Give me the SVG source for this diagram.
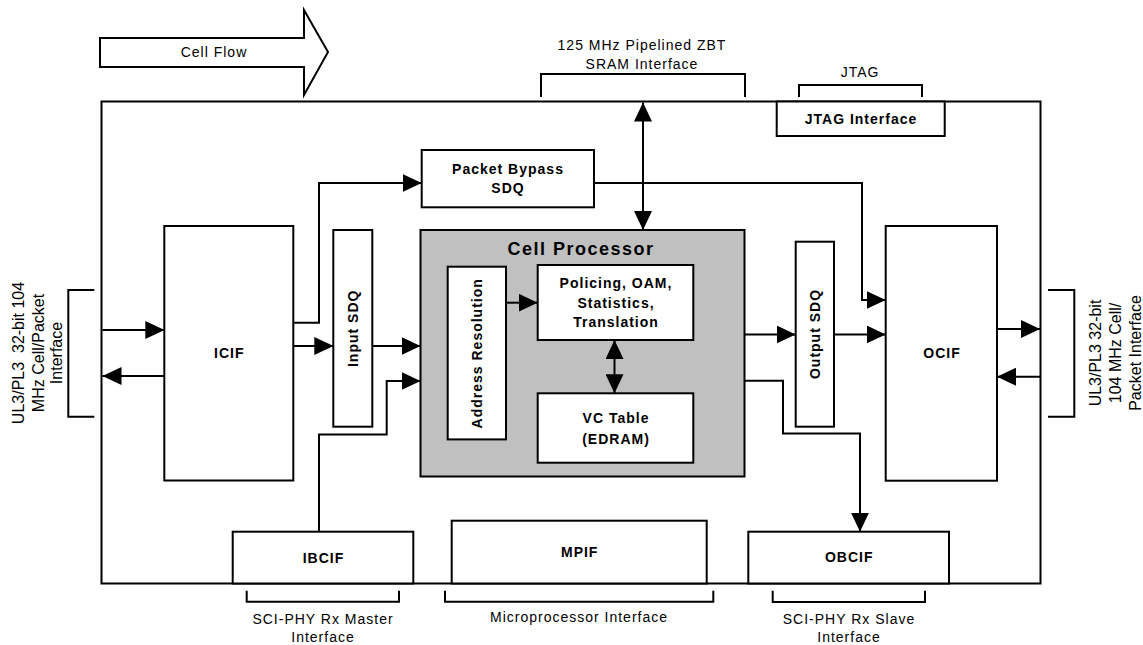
<svg xmlns="http://www.w3.org/2000/svg" width="1143" height="645" viewBox="0 0 1143 645">
<style>
  .box { fill: #fff; stroke: #000; stroke-width: 2; }
  .gray { fill: #c0c0c0; stroke: #000; stroke-width: 2; }
  .ln { fill: none; stroke: #000; stroke-width: 2; }
  .arr { fill: none; stroke: #000; stroke-width: 2; marker-end: url(#ah); }
  .darr { fill: none; stroke: #000; stroke-width: 2; marker-end: url(#ah); marker-start: url(#ah); }
  .lbl { font-family: "Liberation Sans", Arial, sans-serif; font-size: 14px; letter-spacing: 1px; text-anchor: middle; fill: #000; }
  .b { font-family: "Liberation Sans", Arial, sans-serif; font-size: 14px; font-weight: bold; letter-spacing: 1px; text-anchor: middle; fill: #000; }
  .title { font-family: "Liberation Sans", Arial, sans-serif; font-size: 18px; font-weight: bold; letter-spacing: 1.5px; text-anchor: middle; fill: #000; }
  .side { font-family: "Liberation Sans", Arial, sans-serif; font-size: 16px; text-anchor: middle; fill: #000; }
</style>
<defs>
  <marker id="ah" viewBox="0 0 19 18" refX="19" refY="9" markerWidth="19" markerHeight="18" markerUnits="userSpaceOnUse" orient="auto-start-reverse">
    <path d="M0,0 L19,9 L0,18 z" fill="#000"/>
  </marker>
</defs>
<rect width="1143" height="645" fill="#fff"/>

<!-- Cell Flow arrow -->
<g id="cellflow">
  <polygon points="100,38 304,38 304,10 328,52 304,95 304,67 100,67" class="box"/>
  <text class="lbl" x="214" y="57">Cell Flow</text>
</g>

<!-- Main chip boundary -->
<g id="chip">
  <rect x="101.5" y="101.5" width="939" height="482" class="box"/>
</g>

<!-- interface brackets and labels -->
<g id="sram-if">
  <path d="M541,97 V74 H745 V97" class="ln"/>
  <text class="lbl" x="642" y="50">125 MHz Pipelined ZBT</text>
  <text class="lbl" x="642" y="68.5">SRAM Interface</text>
</g>
<g id="jtag-if">
  <path d="M799,97 V85 H922 V97" class="ln"/>
  <text class="lbl" x="860" y="77">JTAG</text>
</g>
<g id="left-if">
  <path d="M94.3,290 H68.3 V416.7 H94.3" class="ln"/>
  <g transform="translate(0,353) rotate(-90)">
    <text class="side" x="0" y="23.9" xml:space="preserve">UL3/PL3  32-bit 104</text>
    <text class="side" x="0" y="43.9">MHz Cell/Packet</text>
    <text class="side" x="0" y="62.3">Interface</text>
  </g>
</g>
<g id="right-if">
  <path d="M1048,290 H1074.3 V416.7 H1048" class="ln"/>
  <g transform="translate(0,353) rotate(-90)">
    <text class="side" x="0" y="1100.6">UL3/PL3 32-bit</text>
    <text class="side" x="0" y="1120.6">104 MHz Cell/</text>
    <text class="side" x="0" y="1140.6">Packet Interface</text>
  </g>
</g>
<g id="ibcif-if">
  <path d="M246.7,590.7 V601.7 H399 V590.7" class="ln"/>
  <text class="lbl" x="323" y="624">SCI-PHY Rx Master</text>
  <text class="lbl" x="323" y="641.5">Interface</text>
</g>
<g id="mpif-if">
  <path d="M445,590.7 V601.7 H713.3 V590.7" class="ln"/>
  <text class="lbl" x="579" y="621.5">Microprocessor Interface</text>
</g>
<g id="obcif-if">
  <path d="M772.7,590.7 V602 H925 V590.7" class="ln"/>
  <text class="lbl" x="849" y="624">SCI-PHY Rx Slave</text>
  <text class="lbl" x="849" y="641.5">Interface</text>
</g>

<!-- Nodes -->
<g id="jtag">
  <rect x="776.7" y="101.5" width="168" height="34.5" class="box"/>
  <text class="b" x="861" y="124">JTAG Interface</text>
</g>
<g id="packet-bypass">
  <rect x="421.7" y="150" width="172.3" height="57.3" class="box"/>
  <text class="b" x="508" y="174">Packet Bypass</text>
  <text class="b" x="508" y="192.7">SDQ</text>
</g>
<g id="icif">
  <rect x="164.3" y="226" width="129" height="254.5" class="box"/>
  <text class="b" x="229.3" y="358">ICIF</text>
</g>
<g id="input-sdq">
  <rect x="333.3" y="230" width="39" height="196.7" class="box"/>
  <text class="b" transform="translate(352.8,328.3) rotate(-90)" x="0" y="5">Input SDQ</text>
</g>
<g id="cell-processor">
  <rect x="420.5" y="230" width="324" height="246.5" class="gray"/>
  <text class="title" x="581" y="254.5">Cell Processor</text>
</g>
<g id="address-resolution">
  <rect x="447.7" y="266.7" width="58.3" height="172.7" class="box"/>
  <text class="b" transform="translate(476.9,353.3) rotate(-90)" x="0" y="5">Address Resolution</text>
</g>
<g id="policing">
  <rect x="537.7" y="265" width="155.6" height="75" class="box"/>
  <text class="b" x="616" y="288.3">Policing, OAM,</text>
  <text class="b" x="616" y="307.7">Statistics,</text>
  <text class="b" x="616" y="326.7">Translation</text>
</g>
<g id="vc-table">
  <rect x="537.7" y="393.3" width="155.6" height="69.4" class="box"/>
  <text class="b" x="616" y="422.7">VC Table</text>
  <text class="b" x="616" y="444.3">(EDRAM)</text>
</g>
<g id="output-sdq">
  <rect x="795.7" y="241.7" width="38.3" height="185" class="box"/>
  <text class="b" transform="translate(814.9,334) rotate(-90)" x="0" y="5">Output SDQ</text>
</g>
<g id="ocif">
  <rect x="885.7" y="226" width="111.3" height="254.7" class="box"/>
  <text class="b" x="942" y="358">OCIF</text>
</g>
<g id="ibcif">
  <rect x="232.7" y="531.7" width="180.6" height="51.8" class="box"/>
  <text class="b" x="323.5" y="563">IBCIF</text>
</g>
<g id="mpif">
  <rect x="451.7" y="520.7" width="255" height="62.8" class="box"/>
  <text class="b" x="579.7" y="557">MPIF</text>
</g>
<g id="obcif">
  <rect x="748.3" y="531.7" width="200.7" height="51.8" class="box"/>
  <text class="b" x="849.2" y="562.3">OBCIF</text>
</g>

<!-- Connectors -->
<g id="connectors">
  <path d="M102.5,330 H164.3" class="arr"/>
  <path d="M164.3,376 H102.5" class="arr"/>
  <path d="M293.3,322.7 H319 V183 H421.7" class="arr"/>
  <path d="M293.3,346 H333.3" class="arr"/>
  <path d="M372.3,346 H420.5" class="arr"/>
  <path d="M319,531.7 V434.5 H386.7 V381 H420.5" class="arr"/>
  <path d="M643,102.5 V230" class="darr"/>
  <path d="M506,302.7 H537.7" class="arr"/>
  <path d="M614.5,340 V393.3" class="darr"/>
  <path d="M744.5,334.5 H795.7" class="arr"/>
  <path d="M834,334.5 H885.7" class="arr"/>
  <path d="M594,183 H862 V300 H885.7" class="arr"/>
  <path d="M744.5,380.7 H783 V433.5 H860 V531.7" class="arr"/>
  <path d="M997,329 H1040" class="arr"/>
  <path d="M1040,376.7 H997" class="arr"/>
</g>
</svg>
